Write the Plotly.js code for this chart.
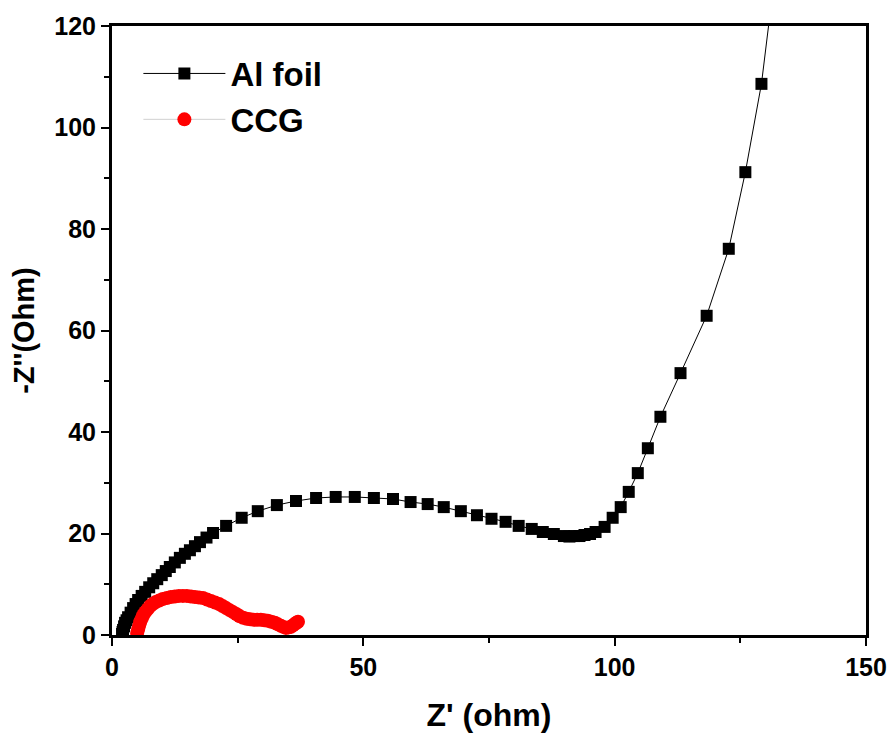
<!DOCTYPE html>
<html>
<head>
<meta charset="utf-8">
<script src="https://cdn.plot.ly/plotly-3.0.1.min.js"></script>
<style>html,body{margin:0;padding:0;background:#fff;}#chart{width:891px;height:736px;}</style>
</head>
<body>
<div id="chart"></div>
<script>
// Al foil series
var alX = [2.0, 2.1, 2.2, 2.4, 2.6, 2.9, 3.2, 3.7, 4.2, 4.7, 5.2, 5.9, 6.6, 7.4, 8.2, 9.0, 9.9, 10.7, 11.5, 12.5, 13.5, 14.5, 15.5, 16.5, 17.5, 18.8, 20.1, 22.7, 25.8, 29.0, 32.8, 36.6, 40.6, 44.5, 48.3, 52.1, 55.9, 59.4, 62.8, 66.0, 69.4, 72.6, 75.5, 78.3, 80.9, 83.5, 85.7, 87.9, 89.9, 91.0, 92.0, 93.0, 94.0, 95.1, 96.2, 98.0, 99.6, 101.2, 102.8, 104.6, 106.6, 109.1, 113.1, 118.3, 122.7, 126.0, 129.2, 131.6];
var alY = [0.2, 0.6, 1.0, 1.7, 2.4, 2.9, 3.5, 4.4, 5.3, 6.1, 6.9, 7.7, 8.5, 9.4, 10.2, 11.0, 11.8, 12.6, 13.4, 14.3, 15.2, 16.0, 16.7, 17.5, 18.3, 19.2, 20.1, 21.5, 23.1, 24.4, 25.6, 26.4, 27.0, 27.2, 27.2, 27.0, 26.8, 26.2, 25.8, 25.2, 24.4, 23.6, 22.9, 22.3, 21.5, 20.9, 20.3, 19.9, 19.5, 19.4, 19.5, 19.5, 19.7, 19.9, 20.3, 21.3, 23.1, 25.2, 28.2, 31.9, 36.8, 43.0, 51.6, 62.9, 76.1, 91.2, 108.6, 128.0];
// CCG series
var ccgX = [5.0, 5.2, 5.4, 5.6, 5.9, 6.2, 6.6, 7.1, 7.6, 8.1, 8.7, 9.4, 10.1, 10.9, 11.7, 12.5, 13.3, 14.1, 14.9, 15.7, 16.5, 17.3, 18.1, 18.9, 19.7, 20.5, 21.3, 22.0, 22.7, 23.4, 24.1, 24.8, 25.4, 26.1, 26.8, 27.5, 28.2, 28.9, 29.6, 30.3, 31.0, 31.7, 32.4, 33.0, 33.6, 34.1, 34.6, 35.1, 35.6, 36.0, 36.4, 36.7, 37.0];
var ccgY = [0.4, 1.1, 1.8, 2.5, 3.2, 3.9, 4.5, 5.1, 5.7, 6.1, 6.5, 6.8, 7.1, 7.3, 7.5, 7.6, 7.7, 7.7, 7.7, 7.6, 7.5, 7.4, 7.3, 7.0, 6.7, 6.4, 6.1, 5.7, 5.3, 4.9, 4.5, 4.1, 3.7, 3.4, 3.2, 3.1, 3.0, 3.0, 3.0, 2.9, 2.8, 2.6, 2.4, 2.1, 1.8, 1.6, 1.4, 1.5, 1.6, 1.9, 2.2, 2.4, 2.6];
var seriesNames = ['Al foil', 'CCG'];
var xTicks = [0, 50, 100, 150];
var yTicks = [0, 20, 40, 60, 80, 100, 120];

var F = 'Arial, "Liberation Sans", sans-serif';
var traces = [
  {x: alX, y: alY, name: seriesNames[0], type: 'scatter', mode: 'lines+markers',
   line: {color: '#000', width: 1}, marker: {symbol: 'square', size: 12, color: '#000'}},
  {x: ccgX, y: ccgY, name: seriesNames[1], type: 'scatter', mode: 'lines+markers',
   line: {color: '#d0d0d0', width: 1}, marker: {symbol: 'circle', size: 14, color: '#ff0000'}}
];
var axisCommon = {
  showline: true, linecolor: '#000', linewidth: 3, mirror: true,
  ticks: 'outside', ticklen: 8, tickwidth: 2, tickcolor: '#000',
  showgrid: false, zeroline: false,
  tickfont: {family: F, size: 25, color: '#000', weight: 'bold'}
};
var layout = {
  width: 891, height: 736,
  margin: {l: 112, r: 25, t: 26, b: 101},
  paper_bgcolor: '#fff', plot_bgcolor: '#fff',
  showlegend: true,
  legend: {x: 0.035, y: 0.968, xanchor: 'left', yanchor: 'top', bgcolor: 'rgba(0,0,0,0)',
           font: {family: F, size: 33, color: '#000', weight: 'bold'}, itemwidth: 82,
           tracegroupgap: 0},
  xaxis: Object.assign({}, axisCommon, {
    range: [0, 150], tickvals: xTicks, ticktext: xTicks.map(String),
    minor: {tickvals: [25, 75, 125], ticks: 'outside', ticklen: 5, tickwidth: 2, tickcolor: '#000'},
    title: {text: "Z' (ohm)", font: {family: F, size: 32, color: '#000', weight: 'bold'}, standoff: 24}
  }),
  yaxis: Object.assign({}, axisCommon, {
    range: [0, 120], tickvals: yTicks, ticktext: yTicks.map(String),
    minor: {tickvals: [10, 30, 50, 70, 90, 110], ticks: 'outside', ticklen: 5, tickwidth: 2, tickcolor: '#000'},
    title: {text: "-Z''(Ohm)", font: {family: F, size: 29, color: '#000', weight: 'bold'}, standoff: 12}
  })
};
Plotly.newPlot('chart', traces, layout, {displayModeBar: false, staticPlot: true});
</script>
</body>
</html>
